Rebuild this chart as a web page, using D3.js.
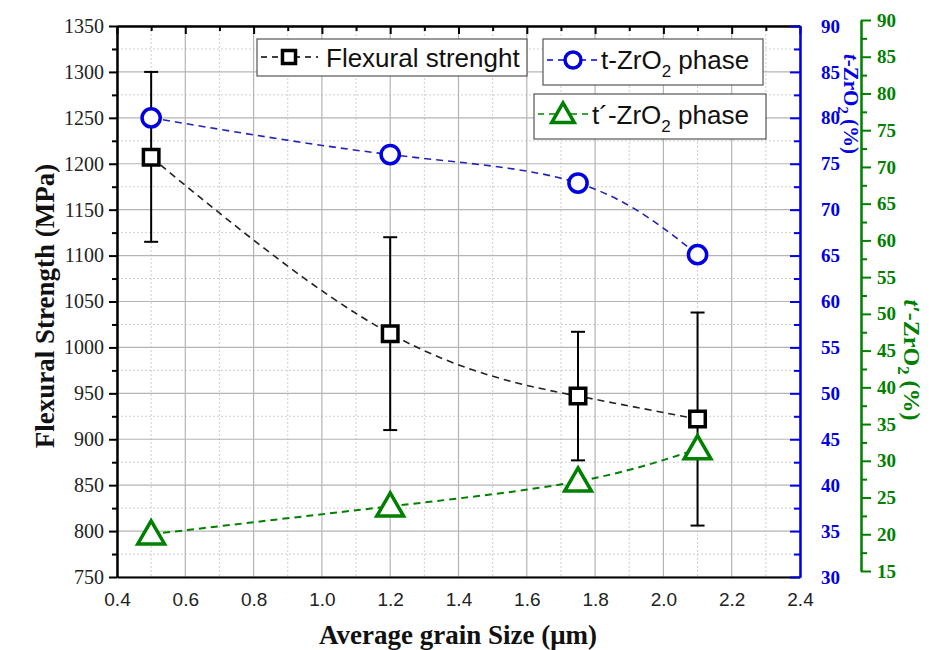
<!DOCTYPE html>
<html lang="en">
<head>
<meta charset="utf-8">
<script src="https://cdn.jsdelivr.net/npm/d3@7"></script>
<style>
  body { margin: 0; background: #fff; }
</style>
</head>
<body>
<svg id="chart" width="934" height="650"></svg>
<script>
// data
var grainSize = [0.5, 1.2, 1.75, 2.1];
var flexural = [1207, 1015, 947, 922];
var flexErrHigh = [1300, 1120, 1017, 1038];
var flexErrLow = [1115, 910, 877, 806];
var tZrO2 = [80, 76, 72.9, 65.1];
var tPrimeZrO2 = [20, 23.8, 27.2, 31.6];

var xTicks = d3.range(0.4, 2.41, 0.2);
var xMinor = d3.range(0.5, 2.31, 0.2);
var leftTicks = d3.range(750, 1351, 50);
var leftMinor = d3.range(775, 1326, 50);
var blueTicks = d3.range(30, 91, 5);
var blueMinor = d3.range(32.5, 88, 5);
var greenTicks = d3.range(15, 91, 5);
var greenMinor = d3.range(17.5, 88, 5);

var BLUE = "#0000e0", GREEN = "#008000";
var SERIF = "'Liberation Serif', 'Times New Roman', serif";
var SANS = "'Liberation Sans', Arial, sans-serif";

var svg = d3.select("#chart");

var x = d3.scaleLinear().domain([0.4, 2.4]).range([117, 800]);
var yL = d3.scaleLinear().domain([750, 1350]).range([577, 26]);
var yB = d3.scaleLinear().domain([30, 90]).range([577, 26]);
var yG = d3.scaleLinear().domain([15, 90]).range([571, 20]);

// grid
var grid = svg.append("g");
grid.selectAll(".vmin").data(xMinor).enter().append("line")
  .attr("x1", d => x(d)).attr("x2", d => x(d)).attr("y1", yL(1350)).attr("y2", yL(750))
  .attr("stroke", "#cfcfcf").attr("stroke-dasharray", "2,2");
grid.selectAll(".hmin").data(leftMinor).enter().append("line")
  .attr("y1", d => yL(d)).attr("y2", d => yL(d)).attr("x1", x(0.4)).attr("x2", x(2.4))
  .attr("stroke", "#cfcfcf").attr("stroke-dasharray", "2,2");
grid.selectAll(".vmaj").data(xTicks).enter().append("line")
  .attr("x1", d => x(d)).attr("x2", d => x(d)).attr("y1", yL(1350)).attr("y2", yL(750))
  .attr("stroke", "#b4b4b4").attr("stroke-width", 1.2);
grid.selectAll(".hmaj").data(leftTicks).enter().append("line")
  .attr("y1", d => yL(d)).attr("y2", d => yL(d)).attr("x1", x(0.4)).attr("x2", x(2.4))
  .attr("stroke", "#b4b4b4").attr("stroke-width", 1.2);

// axes
function styleAxis(g, color) {
  g.select(".domain").attr("stroke", color).attr("stroke-width", 2);
  g.selectAll(".tick line").attr("stroke", color).attr("stroke-width", 2);
}

var gLeft = svg.append("g").attr("transform", "translate(" + x(0.4) + ",0)")
  .call(d3.axisLeft(yL).tickValues(leftTicks).tickSize(8).tickSizeOuter(0).tickPadding(5).tickFormat(d3.format("d")));
styleAxis(gLeft, "#000");
gLeft.attr("font-family", SERIF);
gLeft.selectAll("text").attr("font-size", 20).attr("fill", "#222");
var gLeftMin = svg.append("g").attr("transform", "translate(" + x(0.4) + ",0)")
  .call(d3.axisLeft(yL).tickValues(leftMinor).tickSize(5).tickSizeOuter(0).tickFormat(""));
styleAxis(gLeftMin, "#000");

var gBottom = svg.append("g").attr("transform", "translate(0," + yL(750) + ")")
  .call(d3.axisBottom(x).tickValues(xTicks).tickSize(0).tickPadding(16).tickFormat(d3.format(".1f")));
styleAxis(gBottom, "#000");
gBottom.attr("font-family", SANS);
gBottom.selectAll("text").attr("font-size", 19).attr("fill", "#222");

var gTop = svg.append("g").attr("transform", "translate(0," + yL(1350) + ")")
  .call(d3.axisTop(x).tickValues(xTicks).tickSize(-8).tickSizeOuter(0).tickFormat(""));
styleAxis(gTop, "#000");
var gTopMin = svg.append("g").attr("transform", "translate(0," + yL(1350) + ")")
  .call(d3.axisTop(x).tickValues(xMinor).tickSize(-5).tickSizeOuter(0).tickFormat(""));
styleAxis(gTopMin, "#000");

var gBlue = svg.append("g").attr("transform", "translate(" + x(2.4) + ",0)")
  .call(d3.axisRight(yB).tickValues(blueTicks).tickSize(-10).tickSizeOuter(0).tickPadding(21));
styleAxis(gBlue, BLUE);
gBlue.attr("font-family", SERIF);
gBlue.selectAll("text").attr("font-size", 19).attr("font-weight", "bold").attr("fill", BLUE);
var gBlueMin = svg.append("g").attr("transform", "translate(" + x(2.4) + ",0)")
  .call(d3.axisRight(yB).tickValues(blueMinor).tickSize(-6).tickSizeOuter(0).tickFormat(""));
styleAxis(gBlueMin, BLUE);

var gGreen = svg.append("g").attr("transform", "translate(861,0)")
  .call(d3.axisRight(yG).tickValues(greenTicks).tickSize(10).tickSizeOuter(0).tickPadding(6));
styleAxis(gGreen, GREEN);
gGreen.attr("font-family", SERIF);
gGreen.selectAll("text").attr("font-size", 19).attr("font-weight", "bold").attr("fill", GREEN);
var gGreenMin = svg.append("g").attr("transform", "translate(861,0)")
  .call(d3.axisRight(yG).tickValues(greenMinor).tickSize(6).tickSizeOuter(0).tickFormat(""));
styleAxis(gGreenMin, GREEN);

// axis titles
svg.append("text")
  .attr("transform", "translate(54,306) rotate(-90)")
  .attr("text-anchor", "middle").attr("font-size", 27).attr("font-weight", "bold")
  .attr("font-family", SERIF).attr("fill", "#111")
  .text("Flexural Strength (MPa)");
svg.append("text")
  .attr("x", 458).attr("y", 644)
  .attr("text-anchor", "middle").attr("font-size", 27).attr("font-weight", "bold")
  .attr("font-family", SERIF).attr("fill", "#111")
  .text("Average grain Size (\u03bcm)");

function ratioTitle(xpos, ypos, color, tLabel, size) {
  var t = svg.append("text")
    .attr("transform", "translate(" + xpos + "," + ypos + ") rotate(90)")
    .attr("text-anchor", "middle").attr("font-size", size).attr("font-weight", "bold")
    .attr("font-family", SERIF).attr("fill", color);
  t.append("tspan").attr("font-style", "italic").text(tLabel);
  t.append("tspan").text("-ZrO");
  t.append("tspan").attr("dy", 6).attr("font-size", size * 0.7).text("2");
  t.append("tspan").attr("dy", -6).text(" (%)");
}
ratioTitle(844, 104, BLUE, "t", 21);
ratioTitle(904, 360, GREEN, "t\u2032", 24);

// series
var line = function(ys, yScale) {
  return d3.line().curve(d3.curveNatural)
    .x((d, i) => x(grainSize[i])).y(d => yScale(d))(ys);
};
svg.append("path").attr("d", line(flexural, yL))
  .attr("fill", "none").attr("stroke", "#222").attr("stroke-width", 1.6).attr("stroke-dasharray", "7,5");
svg.append("path").attr("d", line(tZrO2, yB))
  .attr("fill", "none").attr("stroke", "#2222bb").attr("stroke-width", 1.6).attr("stroke-dasharray", "7,5");
svg.append("path").attr("d", line(tPrimeZrO2, yG))
  .attr("fill", "none").attr("stroke", GREEN).attr("stroke-width", 2).attr("stroke-dasharray", "7,5");

// error bars
var eb = svg.append("g").attr("stroke", "#000").attr("stroke-width", 2);
grainSize.forEach(function(g, i) {
  eb.append("line").attr("x1", x(g)).attr("x2", x(g)).attr("y1", yL(flexErrHigh[i])).attr("y2", yL(flexErrLow[i]));
  eb.append("line").attr("x1", x(g) - 7).attr("x2", x(g) + 7).attr("y1", yL(flexErrHigh[i])).attr("y2", yL(flexErrHigh[i]));
  eb.append("line").attr("x1", x(g) - 7).attr("x2", x(g) + 7).attr("y1", yL(flexErrLow[i])).attr("y2", yL(flexErrLow[i]));
});

// markers
var sq = d3.symbol().type(d3.symbolSquare).size(240);
var ci = d3.symbol().type(d3.symbolCircle).size(260);
var tr = d3.symbol().type(d3.symbolTriangle).size(310);

svg.selectAll(".sq").data(flexural).enter().append("path")
  .attr("d", sq).attr("transform", (d, i) => "translate(" + x(grainSize[i]) + "," + yL(d) + ")")
  .attr("fill", "#fff").attr("stroke", "#000").attr("stroke-width", 3.5);
svg.selectAll(".ci").data(tZrO2).enter().append("path")
  .attr("d", ci).attr("transform", (d, i) => "translate(" + x(grainSize[i]) + "," + yB(d) + ")")
  .attr("fill", "#fff").attr("stroke", BLUE).attr("stroke-width", 3.5);
svg.selectAll(".tr").data(tPrimeZrO2).enter().append("path")
  .attr("d", tr).attr("transform", (d, i) => "translate(" + x(grainSize[i]) + "," + (yG(d) + 2) + ")")
  .attr("fill", "#fff").attr("stroke", GREEN).attr("stroke-width", 3.5);

// legends
function legendBox(bx, by, bw, bh) {
  svg.append("rect").attr("x", bx).attr("y", by).attr("width", bw).attr("height", bh)
    .attr("fill", "#fff").attr("stroke", "#555").attr("stroke-width", 1.2);
}
function legendLine(x1, x2, yy, color) {
  svg.append("line").attr("x1", x1).attr("x2", x2).attr("y1", yy).attr("y2", yy)
    .attr("stroke", color).attr("stroke-width", 1.6).attr("stroke-dasharray", "6,5");
}

legendBox(257, 39, 270, 37);
legendLine(261, 318, 57, "#000");
svg.append("path").attr("d", d3.symbol().type(d3.symbolSquare).size(170))
  .attr("transform", "translate(289,57)").attr("fill", "#fff").attr("stroke", "#000").attr("stroke-width", 3.5);
svg.append("text").attr("font-family", SANS).attr("x", 326).attr("y", 67).attr("font-size", 26)
  .attr("fill", "#111").text("Flexural strenght");

legendBox(543, 39, 220, 46);
legendLine(547, 598, 60, BLUE);
svg.append("path").attr("d", d3.symbol().type(d3.symbolCircle).size(200))
  .attr("transform", "translate(573,60)").attr("fill", "#fff").attr("stroke", BLUE).attr("stroke-width", 3.5);
var t2 = svg.append("text").attr("font-family", SANS).attr("x", 601).attr("y", 69).attr("font-size", 26).attr("fill", "#111");
t2.append("tspan").text("t-ZrO");
t2.append("tspan").attr("dy", 8).attr("font-size", 17).text("2");
t2.append("tspan").attr("dy", -8).text(" phase");

legendBox(534, 94, 232, 45);
legendLine(538, 589, 114, GREEN);
svg.append("path").attr("d", d3.symbol().type(d3.symbolTriangle).size(220))
  .attr("transform", "translate(563,116)").attr("fill", "#fff").attr("stroke", GREEN).attr("stroke-width", 3.5);
var t3 = svg.append("text").attr("font-family", SANS).attr("x", 592).attr("y", 124).attr("font-size", 26).attr("fill", "#111");
t3.append("tspan").text("t\u00b4-ZrO");
t3.append("tspan").attr("dy", 8).attr("font-size", 17).text("2");
t3.append("tspan").attr("dy", -8).text(" phase");
</script>
</body>
</html>
